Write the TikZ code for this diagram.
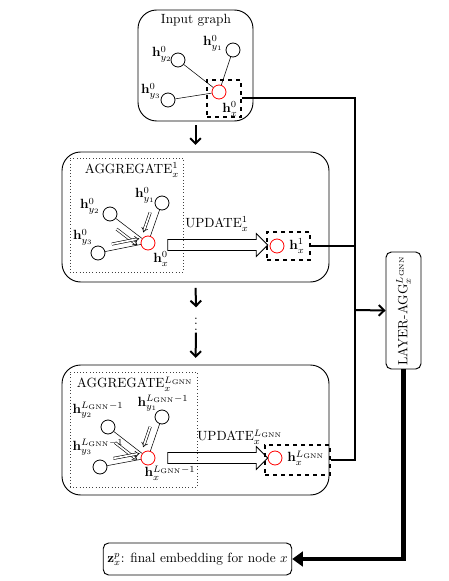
\documentclass[tikz,border=0pt]{standalone}
\usepackage{graphicx}
\usetikzlibrary{arrows.meta,calc,shapes.arrows}

\tikzset{
	gnode/.style={circle,draw,line width=0.6pt,minimum size=10.5pt,inner sep=0pt},
	xnode/.style={gnode,draw=red},
	lbl/.style={inner sep=0.75pt},
	hbox/.style={draw,dashed,line width=0.8pt,inner sep=0pt},
	layerbox/.style={draw,rounded corners=14pt,line width=0.7pt,inner sep=0pt},
	aggbox/.style={draw=black!75,dotted,line width=0.4pt,inner sep=0pt},
	edge/.style={line width=0.4pt},
	msg/.style={double,double distance=1.3pt,line width=0.45pt,-{Implies}},
	updarrow/.style={single arrow,draw,line width=0.6pt,inner sep=3.8pt,single arrow head extend=4.5pt,single arrow head indent=0pt,minimum height=75pt},
	flow/.style={line width=1.5pt},
	flowarrow/.style={line width=1.5pt,-{Straight Barb[length=4pt,width=8pt]}},
	bigflow/.style={line width=3.5pt,-{Triangle[length=8pt,width=11pt]}},
}

\begin{document}
\begin{tikzpicture}[x=0.75pt,y=0.75pt,yscale=-1,xscale=1]
	\useasboundingbox (0,0) rectangle (449,581);
	
	%Input graph
	\node[layerbox,minimum width=86.25pt,minimum height=83.25pt] (inbox) at (195.5,65.5) {};
	\node[lbl] (intitle) at (196,20) {Input graph};
	\node[hbox,minimum width=25.5pt,minimum height=27.75pt] (in0box) at (224,98.5) {};
	\node[gnode] (iy2) at (178,60) {};
	\node[gnode] (iy1) at (233,50) {};
	\node[gnode] (iy3) at (168,100) {};
	\node[xnode] (ix) at (219,92) {};
	\draw[edge] (iy2) -- (ix);
	\draw[edge] (iy1) -- (ix);
	\draw[edge] (iy3) -- (ix);
	\node[lbl] (liy2) at (162,54) {$\mathbf{h}_{y_2}^{0}$};
	\node[lbl] (liy1) at (213,43) {$\mathbf{h}_{y_1}^{0}$};
	\node[lbl] (liy3) at (151,91) {$\mathbf{h}_{y_3}^{0}$};
	\node[lbl] (lix) at (230,109) {$\mathbf{h}_{x}^{0}$};
	
	%Layer 1
	\node[layerbox,minimum width=200.25pt,minimum height=97.5pt] (lay1) at (195.5,217) {};
	\node[aggbox,minimum width=84.75pt,minimum height=85.5pt] (agg1) at (126.5,215) {};
	\node[lbl] (agg1title) at (132,170) {AGGREGATE$_x^{1}$};
	\node[gnode] (ay2) at (110,214) {};
	\node[gnode] (ay1) at (162,203) {};
	\node[gnode] (ay3) at (98,253) {};
	\node[xnode] (ax) at (148,243) {};
	\draw[edge] (ay2) -- (ax);
	\draw[edge] (ay1) -- (ax);
	\draw[edge] (ay3) -- (ax);
	\draw[msg] ($(ay2)!.3!(ax)!6pt!90:(ax)$) -- ($(ay2)!.85!(ax)!6pt!90:(ax)$);
	\draw[msg] ($(ay1)!.3!(ax)!6pt!90:(ax)$) -- ($(ay1)!.8!(ax)!6pt!90:(ax)$);
	\draw[msg] ($(ay3)!.3!(ax)!4.5pt!-90:(ax)$) -- ($(ay3)!.85!(ax)!4.5pt!-90:(ax)$);
	\node[lbl] (lay2) at (90,206) {$\mathbf{h}_{y_2}^{0}$};
	\node[lbl] (lay1l) at (145,195) {$\mathbf{h}_{y_1}^{0}$};
	\node[lbl] (lay3) at (83,237) {$\mathbf{h}_{y_3}^{0}$};
	\node[lbl] (lax) at (161,259) {$\mathbf{h}_{x}^{0}$};
	\node[hbox,minimum width=32.25pt,minimum height=21pt] (h1box) at (288.5,246) {};
	\node[xnode] (hx1) at (277,246) {};
	\node[lbl] (lhx1) at (297,246) {$\mathbf{h}_{x}^{1}$};
	\node[updarrow] (upd1) at (215,245) {};
	\node[lbl] (upd1l) at (217,224) {UPDATE$_x^{1}$};
	
	%Layer L
	\node[layerbox,minimum width=200.25pt,minimum height=97.5pt] (layL) at (195.5,430) {};
	\node[aggbox,minimum width=95.25pt,minimum height=86.25pt] (aggL) at (133.5,429.5) {};
	\node[lbl] (aggLtitle) at (135,384) {AGGREGATE$_x^{L_{\mathrm{GNN}}}$};
	\node[gnode] (by2) at (108,427) {};
	\node[gnode] (by1) at (162,417) {};
	\node[gnode] (by3) at (100,467) {};
	\node[xnode] (bx) at (148,458) {};
	\draw[edge] (by2) -- (bx);
	\draw[edge] (by1) -- (bx);
	\draw[edge] (by3) -- (bx);
	\draw[msg] ($(by2)!.3!(bx)!6pt!90:(bx)$) -- ($(by2)!.85!(bx)!6pt!90:(bx)$);
	\draw[msg] ($(by1)!.3!(bx)!6pt!90:(bx)$) -- ($(by1)!.8!(bx)!6pt!90:(bx)$);
	\draw[msg] ($(by3)!.3!(bx)!4.5pt!-90:(bx)$) -- ($(by3)!.85!(bx)!4.5pt!-90:(bx)$);
	\node[lbl] (lby2) at (98,410) {$\mathbf{h}_{y_2}^{L_{\mathrm{GNN}}-1}$};
	\node[lbl] (lby1) at (163,403) {$\mathbf{h}_{y_1}^{L_{\mathrm{GNN}}-1}$};
	\node[lbl] (lby3) at (98,447) {$\mathbf{h}_{y_3}^{L_{\mathrm{GNN}}-1}$};
	\node[lbl] (lbx) at (170,473) {$\mathbf{h}_{x}^{L_{\mathrm{GNN}}-1}$};
	\node[hbox,minimum width=48.75pt,minimum height=22.5pt] (hLbox) at (297.5,460) {};
	\node[xnode] (hxL) at (275,458) {};
	\node[lbl] (lhxL) at (306,458) {$\mathbf{h}_{x}^{L_{\mathrm{GNN}}}$};
	\node[updarrow] (updL) at (215,458) {};
	\node[lbl] (updLl) at (240,437) {UPDATE$_x^{L_{\mathrm{GNN}}}$};
	
	%between layers
	\node[lbl] (dots) at (196,320) {$\vdots$};
	\draw[flowarrow,shorten <=3pt,shorten >=5pt] (inbox.south) -- (lay1.north);
	\draw[flowarrow,shorten <=4pt,shorten >=1pt] (lay1.south) -- (dots.north);
	\draw[flowarrow,shorten <=1pt,shorten >=5pt] (dots.south) -- (layL.north);
	
	%layer aggregation
	\node[draw,rounded corners=4pt,line width=0.7pt,minimum width=26.25pt,minimum height=87.75pt,inner sep=0pt] (layagg) at (403.5,310.5) {\rotatebox{90}{LAYER-AGG$_x^{L_{\mathrm{GNN}}}$}};
	\coordinate (bus) at (355,310);
	\draw[flow] (in0box.east) -| (bus);
	\draw[flow] (h1box.east) -| (bus);
	\draw[flow] (hLbox.east) -| (bus);
	\draw[flowarrow] (bus) -- (layagg.west);
	
	%output
	\node[draw,rounded corners=4pt,line width=0.7pt,inner xsep=3pt,minimum height=24pt] (final) at (197.5,559) {$\mathbf{z}_x^{p}$: final embedding for node $x$};
	\draw[bigflow] (layagg.south) |- (final.east);
	
\end{tikzpicture}
\end{document}
